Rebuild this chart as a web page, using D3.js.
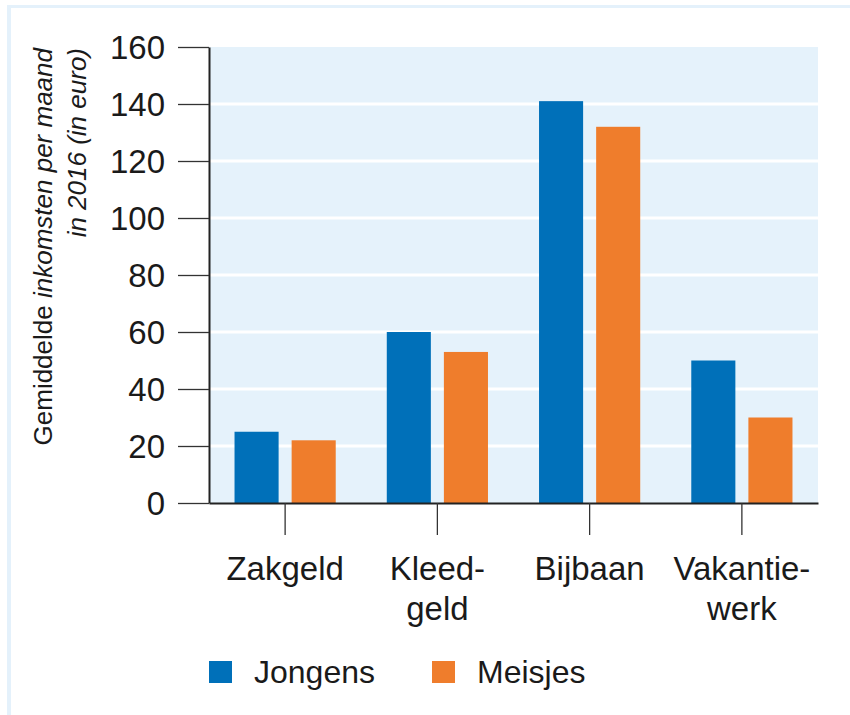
<!DOCTYPE html>
<html>
<head>
<meta charset="utf-8">
<script src="https://cdn.jsdelivr.net/npm/d3@7"></script>
<style>
  body { margin: 0; background: #fff; }
  svg { display: block; font-family: "Liberation Sans", Arial, sans-serif; }
</style>
</head>
<body>
<svg id="chart"></svg>
<script>
// categorieen en waarden (gemiddelde inkomsten per maand, 2016)
const categories = ['Zakgeld', 'Kleed-\ngeld', 'Bijbaan', 'Vakantie-\nwerk'];
const seriesNames = ['Jongens', 'Meisjes'];
const jongens = [25, 60, 141, 50];
const meisjes = [22, 53, 132, 30];
const yTicks = [0, 20, 40, 60, 80, 100, 120, 140, 160];

const width = 850;
const height = 715;
const MARGINS = { top: 47, right: 32, bottom: 212, left: 209 };
const innerW = width - MARGINS.left - MARGINS.right;
const innerH = height - MARGINS.top - MARGINS.bottom;

const colors = { Jongens: '#0070b9', Meisjes: '#ef7d2c' };

const svg = d3.select('#chart')
    .attr('width', width)
    .attr('height', height);

// lichtblauwe rand boven en links
svg.append('rect').attr('x', 7).attr('y', 5).attr('width', width - 7).attr('height', 3).attr('fill', '#e4f1fb');
svg.append('rect').attr('x', 7).attr('y', 5).attr('width', 4).attr('height', height - 5).attr('fill', '#e4f1fb');

const g = svg.append('g')
    .attr('transform', `translate(${MARGINS.left}, ${MARGINS.top})`);

const x0 = d3.scaleBand() // groepen
    .domain(categories)
    .range([0, innerW])
    .padding(0);

const x1 = d3.scaleBand() // jongens / meisjes binnen een groep
    .domain(seriesNames)
    .range([0, x0.bandwidth()])
    .paddingInner(0.228)
    .paddingOuter(0.447);

const y = d3.scaleLinear()
    .domain([0, 160])
    .range([innerH, 0]);

// achtergrond plot
g.append('rect')
    .attr('width', innerW)
    .attr('height', innerH)
    .attr('fill', '#e5f2fb');

// witte rasterlijnen
g.append('g')
    .selectAll('line')
    .data(yTicks.filter(t => t > 0 && t < 160))
    .enter()
    .append('line')
    .attr('x1', 0)
    .attr('x2', innerW)
    .attr('y1', d => y(d))
    .attr('y2', d => y(d))
    .attr('stroke', '#fff')
    .attr('stroke-width', 3);

// balken
const rows = categories.map((c, i) => ({ cat: c, values: [
    { s: 'Jongens', v: jongens[i] },
    { s: 'Meisjes', v: meisjes[i] }
]}));

g.append('g')
    .selectAll('g')
    .data(rows)
    .enter()
    .append('g')
    .attr('transform', d => `translate(${x0(d.cat)}, 0)`)
    .selectAll('rect')
    .data(d => d.values)
    .enter()
    .append('rect')
    .attr('x', d => x1(d.s))
    .attr('width', x1.bandwidth())
    .attr('y', d => y(d.v))
    .attr('height', d => innerH - y(d.v))
    .attr('fill', d => colors[d.s]);

// y-as
const yAxis = d3.axisLeft(y)
    .tickValues(yTicks)
    .tickSize(31)
    .tickSizeOuter(0)
    .tickPadding(13);

const yG = g.append('g').call(yAxis);
yG.select('.domain').attr('stroke', '#222').attr('stroke-width', 2);
yG.selectAll('.tick line').attr('stroke', '#333').attr('stroke-width', 1.3);
yG.selectAll('.tick text')
    .attr('font-size', 33)
    .attr('fill', '#1a1a1a')
    .attr('dy', '0.36em');

// x-as
const xAxis = d3.axisBottom(x0)
    .tickSize(32)
    .tickSizeOuter(0)
    .tickFormat('');

const xG = g.append('g')
    .attr('transform', `translate(0, ${innerH})`)
    .call(xAxis);
xG.select('.domain').attr('stroke', '#222').attr('stroke-width', 2);
xG.selectAll('.tick line').attr('stroke', '#333').attr('stroke-width', 1.3);

xG.selectAll('.tick')
    .append('text')
    .attr('fill', '#1a1a1a')
    .attr('font-size', 33)
    .attr('text-anchor', 'middle')
    .selectAll('tspan')
    .data(d => d.split('\n'))
    .enter()
    .append('tspan')
    .attr('x', 0)
    .attr('y', (d, i) => 77 + i * 40)
    .text(d => d);

// y-as titel
const yTitle = svg.append('text')
    .attr('transform', 'translate(52, 48) rotate(-90)')
    .attr('text-anchor', 'end')
    .attr('font-size', 26)
    .attr('fill', '#1a1a1a');
yTitle.append('tspan').attr('x', 0).attr('y', 0).text('Gemiddelde ');
yTitle.append('tspan').attr('font-style', 'italic').text('inkomsten per maand');

svg.append('text')
    .attr('transform', 'translate(86, 48) rotate(-90)')
    .attr('text-anchor', 'end')
    .attr('font-size', 26)
    .attr('font-style', 'italic')
    .attr('fill', '#1a1a1a')
    .text('in 2016 (in euro)');

// legenda
const legendX = [209, 432];
const legend = svg.append('g')
    .selectAll('g')
    .data(seriesNames)
    .enter()
    .append('g')
    .attr('transform', (d, i) => `translate(${legendX[i]}, 661)`);

legend.append('rect')
    .attr('width', 23)
    .attr('height', 22)
    .attr('fill', d => colors[d]);

legend.append('text')
    .attr('x', 45)
    .attr('y', 22)
    .attr('font-size', 32)
    .attr('fill', '#1a1a1a')
    .text(d => d);
</script>
</body>
</html>
